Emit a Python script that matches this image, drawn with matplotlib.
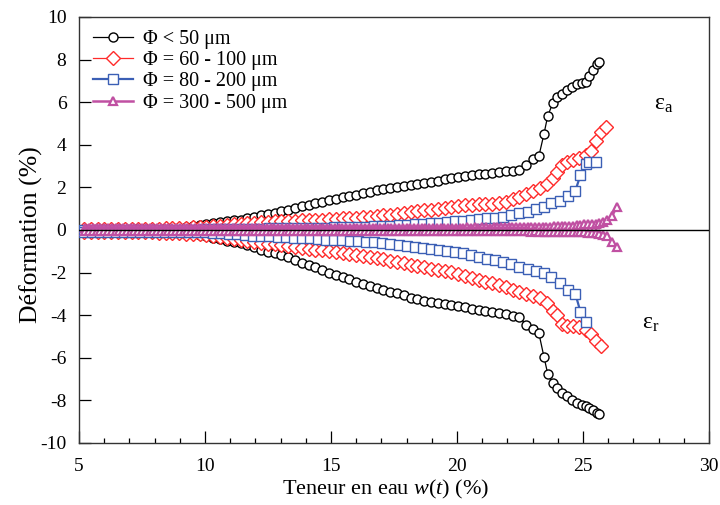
import numpy as np
import matplotlib
matplotlib.use("Agg")
import matplotlib.pyplot as plt
from matplotlib.ticker import MultipleLocator

plt.rcParams['font.family'] = ['Liberation Serif', 'DejaVu Serif']
plt.rcParams['mathtext.fontset'] = 'custom'
plt.rcParams['mathtext.rm'] = 'Liberation Serif'
plt.rcParams['mathtext.it'] = 'Liberation Serif:italic'
plt.rcParams['axes.unicode_minus'] = False

#%% data read from the figure : w(t) [%], eps_a [%], eps_r [%]

# Phi < 50 um
x_50 = [5.20, 5.47, 5.74, 6.01, 6.28, 6.55, 6.82, 7.09, 7.36, 7.63,
        7.90, 8.17, 8.44, 8.71, 8.98, 9.25, 9.52, 9.79, 10.06, 10.33,
        10.60, 10.87, 11.14, 11.41, 11.68, 11.95, 12.22, 12.49, 12.76, 13.03,
        13.30, 13.57, 13.84, 14.11, 14.38, 14.65, 14.92, 15.19, 15.46, 15.73,
        16.00, 16.27, 16.54, 16.81, 17.08, 17.35, 17.62, 17.89, 18.16, 18.43,
        18.70, 18.97, 19.24, 19.51, 19.78, 20.05, 20.32, 20.59, 20.86, 21.13,
        21.40, 21.67, 21.94, 22.21, 22.48, 22.75, 23.00, 23.25, 23.45, 23.60,
        23.80, 23.95, 24.15, 24.35, 24.55, 24.75, 24.95, 25.10, 25.25, 25.40,
        25.55, 25.65]
ea_50 = [0.00, 0.00, 0.00, 0.00, 0.00, 0.00, 0.00, 0.02, 0.02, 0.03,
         0.04, 0.05, 0.06, 0.08, 0.11, 0.15, 0.19, 0.23, 0.27, 0.32,
         0.37, 0.41, 0.45, 0.49, 0.55, 0.62, 0.68, 0.75, 0.81, 0.87,
         0.95, 1.03, 1.11, 1.18, 1.25, 1.32, 1.40, 1.47, 1.53, 1.60,
         1.66, 1.73, 1.80, 1.87, 1.93, 1.97, 2.01, 2.05, 2.10, 2.15,
         2.20, 2.25, 2.31, 2.37, 2.43, 2.47, 2.52, 2.57, 2.62, 2.65,
         2.68, 2.72, 2.75, 2.78, 2.80, 3.05, 3.35, 3.47, 4.50, 5.35,
         5.95, 6.25, 6.40, 6.55, 6.70, 6.85, 6.90, 6.95, 7.25, 7.50,
         7.80, 7.90]
er_50 = [-0.05, -0.05, -0.05, -0.05, -0.05, -0.05, -0.05, -0.06, -0.06, -0.07,
         -0.08, -0.09, -0.10, -0.12, -0.15, -0.18, -0.20, -0.23, -0.30, -0.37,
         -0.44, -0.51, -0.57, -0.63, -0.72, -0.82, -0.92, -1.02, -1.10, -1.17,
         -1.29, -1.41, -1.53, -1.63, -1.75, -1.88, -2.00, -2.10, -2.20, -2.30,
         -2.42, -2.52, -2.62, -2.72, -2.80, -2.90, -2.98, -3.06, -3.20, -3.26,
         -3.32, -3.38, -3.44, -3.48, -3.53, -3.58, -3.63, -3.70, -3.76, -3.82,
         -3.86, -3.90, -3.95, -4.05, -4.10, -4.45, -4.65, -4.85, -5.95, -6.75,
         -7.20, -7.40, -7.65, -7.80, -8.00, -8.10, -8.20, -8.28, -8.35, -8.45,
         -8.60, -8.65]

# Phi = 60 - 100 um
x_100 = [5.20, 5.47, 5.74, 6.01, 6.28, 6.55, 6.82, 7.09, 7.36, 7.63,
         7.90, 8.17, 8.44, 8.71, 8.98, 9.25, 9.52, 9.79, 10.06, 10.33,
         10.60, 10.87, 11.14, 11.41, 11.68, 11.95, 12.22, 12.49, 12.76, 13.03,
         13.30, 13.57, 13.84, 14.11, 14.38, 14.65, 14.92, 15.19, 15.46, 15.73,
         16.00, 16.27, 16.54, 16.81, 17.08, 17.35, 17.62, 17.89, 18.16, 18.43,
         18.70, 18.97, 19.24, 19.51, 19.78, 20.05, 20.32, 20.59, 20.86, 21.13,
         21.40, 21.67, 21.94, 22.21, 22.48, 22.75, 23.02, 23.29, 23.56, 23.80,
         23.95, 24.15, 24.35, 24.60, 24.85, 25.10, 25.30, 25.50, 25.70, 25.90]
ea_100 = [0.05, 0.05, 0.05, 0.05, 0.05, 0.05, 0.05, 0.05, 0.05, 0.05,
          0.06, 0.06, 0.07, 0.08, 0.09, 0.10, 0.12, 0.14, 0.16, 0.18,
          0.21, 0.24, 0.27, 0.30, 0.32, 0.35, 0.37, 0.39, 0.40, 0.42,
          0.43, 0.44, 0.45, 0.46, 0.47, 0.48, 0.50, 0.52, 0.54, 0.56,
          0.58, 0.60, 0.62, 0.65, 0.68, 0.72, 0.76, 0.80, 0.84, 0.88,
          0.92, 0.96, 1.00, 1.05, 1.10, 1.13, 1.16, 1.18, 1.20, 1.22,
          1.24, 1.27, 1.33, 1.45, 1.55, 1.70, 1.85, 1.95, 2.15, 2.45,
          2.70, 3.05, 3.20, 3.30, 3.38, 3.50, 3.70, 4.20, 4.60, 4.85]
er_100 = [-0.10, -0.10, -0.10, -0.10, -0.10, -0.10, -0.10, -0.10, -0.10, -0.10,
          -0.11, -0.12, -0.13, -0.14, -0.15, -0.17, -0.19, -0.21, -0.25, -0.29,
          -0.33, -0.37, -0.42, -0.47, -0.52, -0.56, -0.60, -0.64, -0.68, -0.72,
          -0.76, -0.80, -0.84, -0.88, -0.92, -0.96, -1.00, -1.04, -1.08, -1.13,
          -1.18, -1.22, -1.26, -1.32, -1.38, -1.45, -1.51, -1.57, -1.63, -1.69,
          -1.75, -1.81, -1.87, -1.92, -1.97, -2.06, -2.15, -2.24, -2.33, -2.42,
          -2.51, -2.60, -2.70, -2.80, -2.92, -3.02, -3.10, -3.18, -3.45, -3.80,
          -4.00, -4.40, -4.50, -4.50, -4.55, -4.70, -4.90, -5.20, -5.45]

# Phi = 80 - 200 um
x_200 = [5.20, 5.52, 5.84, 6.16, 6.48, 6.80, 7.12, 7.44, 7.76, 8.08,
         8.40, 8.72, 9.04, 9.36, 9.68, 10.00, 10.32, 10.64, 10.96, 11.28,
         11.60, 11.92, 12.24, 12.56, 12.88, 13.20, 13.52, 13.84, 14.16, 14.48,
         14.80, 15.12, 15.44, 15.76, 16.08, 16.40, 16.72, 17.04, 17.36, 17.68,
         18.00, 18.32, 18.64, 18.96, 19.28, 19.60, 19.92, 20.24, 20.56, 20.88,
         21.20, 21.52, 21.84, 22.16, 22.48, 22.80, 23.12, 23.44, 23.75, 24.10,
         24.40, 24.70, 24.90, 25.10, 25.25, 25.50]
ea_200 = [0.02, 0.02, 0.02, 0.02, 0.02, 0.02, 0.02, 0.02, 0.02, 0.02,
          0.02, 0.02, 0.02, 0.02, 0.02, 0.03, 0.03, 0.04, 0.04, 0.05,
          0.05, 0.06, 0.06, 0.07, 0.07, 0.08, 0.08, 0.09, 0.09, 0.10,
          0.11, 0.12, 0.13, 0.14, 0.15, 0.16, 0.17, 0.19, 0.20, 0.22,
          0.24, 0.26, 0.28, 0.31, 0.34, 0.37, 0.40, 0.43, 0.46, 0.50,
          0.54, 0.57, 0.60, 0.72, 0.78, 0.85, 0.97, 1.10, 1.25, 1.37,
          1.60, 1.85, 2.58, 3.10, 3.20, 3.20]
er_200 = [-0.08, -0.08, -0.08, -0.08, -0.08, -0.08, -0.08, -0.08, -0.08, -0.08,
          -0.08, -0.08, -0.08, -0.08, -0.08, -0.10, -0.12, -0.14, -0.17, -0.20,
          -0.23, -0.26, -0.28, -0.30, -0.32, -0.34, -0.36, -0.38, -0.40, -0.42,
          -0.45, -0.47, -0.49, -0.51, -0.53, -0.55, -0.58, -0.62, -0.66, -0.70,
          -0.74, -0.79, -0.84, -0.89, -0.94, -0.99, -1.04, -1.10, -1.18, -1.26,
          -1.35, -1.43, -1.50, -1.60, -1.72, -1.83, -1.92, -2.00, -2.20, -2.50,
          -2.80, -3.00, -3.85, -4.30]

# Phi = 300 - 500 um
x_500 = [5.25, 5.40, 5.55, 5.70, 5.85, 6.00, 6.15, 6.30, 6.45, 6.60,
         6.75, 6.90, 7.05, 7.20, 7.35, 7.50, 7.65, 7.80, 7.95, 8.10,
         8.25, 8.40, 8.55, 8.70, 8.85, 9.00, 9.15, 9.30, 9.45, 9.60,
         9.75, 9.90, 10.05, 10.20, 10.35, 10.50, 10.65, 10.80, 10.95, 11.10,
         11.25, 11.40, 11.55, 11.70, 11.85, 12.00, 12.15, 12.30, 12.45, 12.60,
         12.75, 12.90, 13.05, 13.20, 13.35, 13.50, 13.65, 13.80, 13.95, 14.10,
         14.25, 14.40, 14.55, 14.70, 14.85, 15.00, 15.15, 15.30, 15.45, 15.60,
         15.75, 15.90, 16.05, 16.20, 16.35, 16.50, 16.65, 16.80, 16.95, 17.10,
         17.25, 17.40, 17.55, 17.70, 17.85, 18.00, 18.15, 18.30, 18.45, 18.60,
         18.75, 18.90, 19.05, 19.20, 19.35, 19.50, 19.65, 19.80, 19.95, 20.10,
         20.25, 20.40, 20.55, 20.70, 20.85, 21.00, 21.15, 21.30, 21.45, 21.60,
         21.75, 21.90, 22.05, 22.20, 22.35, 22.50, 22.65, 22.80, 22.95, 23.10,
         23.25, 23.40, 23.55, 23.70, 23.85, 24.00, 24.15, 24.30, 24.45, 24.60,
         24.75, 24.90, 25.05, 25.20, 25.35, 25.50, 25.65, 25.80, 25.95, 26.15,
         26.35]
ea_500 = [0.08, 0.08, 0.09, 0.08, 0.08, 0.09, 0.08, 0.08, 0.09, 0.08,
          0.08, 0.09, 0.08, 0.08, 0.09, 0.08, 0.08, 0.09, 0.08, 0.08,
          0.09, 0.08, 0.08, 0.09, 0.08, 0.08, 0.09, 0.08, 0.08, 0.09,
          0.08, 0.08, 0.09, 0.08, 0.09, 0.09, 0.08, 0.09, 0.09, 0.08,
          0.09, 0.09, 0.08, 0.09, 0.09, 0.08, 0.09, 0.09, 0.08, 0.09,
          0.09, 0.08, 0.09, 0.09, 0.09, 0.08, 0.09, 0.09, 0.09, 0.09,
          0.09, 0.10, 0.09, 0.10, 0.09, 0.10, 0.09, 0.10, 0.10, 0.09,
          0.10, 0.10, 0.09, 0.10, 0.10, 0.10, 0.10, 0.10, 0.10, 0.10,
          0.10, 0.10, 0.11, 0.10, 0.10, 0.11, 0.10, 0.11, 0.10, 0.11,
          0.10, 0.11, 0.11, 0.10, 0.11, 0.11, 0.11, 0.11, 0.11, 0.11,
          0.11, 0.12, 0.11, 0.12, 0.11, 0.12, 0.12, 0.11, 0.12, 0.12,
          0.12, 0.13, 0.12, 0.13, 0.13, 0.13, 0.14, 0.13, 0.14, 0.14,
          0.15, 0.15, 0.16, 0.16, 0.17, 0.17, 0.18, 0.19, 0.20, 0.21,
          0.22, 0.24, 0.26, 0.28, 0.30, 0.30, 0.33, 0.38, 0.48, 0.65,
          1.10]
er_500 = [-0.04, -0.04, -0.05, -0.04, -0.04, -0.05, -0.04, -0.04, -0.05, -0.04,
          -0.04, -0.05, -0.04, -0.04, -0.05, -0.04, -0.04, -0.05, -0.04, -0.04,
          -0.05, -0.04, -0.04, -0.05, -0.04, -0.04, -0.05, -0.04, -0.04, -0.05,
          -0.04, -0.05, -0.04, -0.05, -0.04, -0.05, -0.04, -0.05, -0.04, -0.05,
          -0.05, -0.04, -0.05, -0.05, -0.04, -0.05, -0.05, -0.04, -0.05, -0.05,
          -0.05, -0.05, -0.04, -0.05, -0.05, -0.05, -0.05, -0.05, -0.04, -0.05,
          -0.05, -0.05, -0.06, -0.05, -0.05, -0.06, -0.05, -0.05, -0.06, -0.05,
          -0.05, -0.06, -0.05, -0.06, -0.05, -0.06, -0.06, -0.05, -0.06, -0.06,
          -0.06, -0.05, -0.06, -0.06, -0.06, -0.06, -0.05, -0.06, -0.06, -0.06,
          -0.06, -0.06, -0.06, -0.06, -0.06, -0.06, -0.06, -0.06, -0.06, -0.06,
          -0.06, -0.06, -0.07, -0.06, -0.06, -0.07, -0.06, -0.07, -0.07, -0.06,
          -0.07, -0.07, -0.07, -0.07, -0.07, -0.07, -0.07, -0.07, -0.08, -0.07,
          -0.08, -0.08, -0.08, -0.08, -0.09, -0.09, -0.09, -0.09, -0.10, -0.10,
          -0.10, -0.11, -0.11, -0.12, -0.13, -0.14, -0.17, -0.22, -0.30, -0.55,
          -0.80]

labels = [u"\u03A6 < 50 \u03BCm", u"\u03A6 = 60 - 100 \u03BCm",
          u"\u03A6 = 80 - 200 \u03BCm", u"\u03A6 = 300 - 500 \u03BCm"]

#%% plot

# x, eps_a, eps_r, colour, marker, markersize, linewidth, edgewidth
series = [(x_50, ea_50, er_50, "k", "o", 6.5, 0.9, 1.0),
          (x_100, ea_100, er_100, "#ff2a2a", "D", 7.5, 0.9, 1.0),
          (x_200, ea_200, er_200, "#3b5fb5", "s", 7.5, 1.6, 1.0),
          (x_500, ea_500, er_500, "#c050a2", "^", 6.0, 1.8, 1.6)]

fig = plt.figure(figsize=(7.2, 5.05), dpi=100)
ax = fig.add_axes([0.1097, 0.1228, 0.875, 0.8436])

ax.axhline(0, color="k", linewidth=1.0, zorder=10)

for ss, (xx, ea, er, col, mk, ms, lw, mew) in enumerate(series):
    xx = np.array(xx)
    ax.plot(xx[:len(ea)], ea, color=col, marker=mk, markersize=ms,
            markerfacecolor="white", markeredgecolor=col, markeredgewidth=mew,
            linewidth=lw, label=labels[ss], zorder=2 + ss)
    ax.plot(xx[:len(er)], er, color=col, marker=mk, markersize=ms,
            markerfacecolor="white", markeredgecolor=col, markeredgewidth=mew,
            linewidth=lw, zorder=2 + ss)

ax.set_xlim(5, 30)
ax.set_ylim(-10, 10)
ax.xaxis.set_major_locator(MultipleLocator(5))
ax.xaxis.set_minor_locator(MultipleLocator(1))
ax.yaxis.set_major_locator(MultipleLocator(2))
ax.tick_params(which="major", direction="in", length=8.5, width=0.9,
               labelsize=14, top=False, right=False)
ax.tick_params(axis="x", which="major", pad=11)
ax.tick_params(axis="y", which="major", pad=9)
ax.tick_params(which="minor", direction="in", length=3.5, width=0.9,
               top=False, right=False)
for sp in ax.spines.values():
    sp.set_color("#333333")
    sp.set_linewidth(1.0)

ax.set_xlabel(r"Teneur en eau $\mathit{w(t)}$ (%)", fontsize=16, va="center")
ax.xaxis.set_label_coords(0.487, -0.11)
ax.set_ylabel(u"D\u00e9formation (%)", fontsize=18.5, va="center")
ax.yaxis.set_label_coords(-0.076, 0.49)

eps = u"\u03B5"
ax.text(27.8, 5.9, r"$\mathrm{" + eps + "_a}$", fontsize=17,
        ha="left", va="center")
ax.text(27.35, -4.4, r"$\mathrm{" + eps + "_r}$", fontsize=17,
        ha="left", va="center")

ax.legend(loc="upper left", bbox_to_anchor=(0.0095, 0.988), frameon=False,
          fontsize=14.5, handlelength=2.0, handletextpad=0.5,
          labelspacing=0.1, borderaxespad=0.0, borderpad=0.4)

fig.savefig("out.png", dpi=100)
